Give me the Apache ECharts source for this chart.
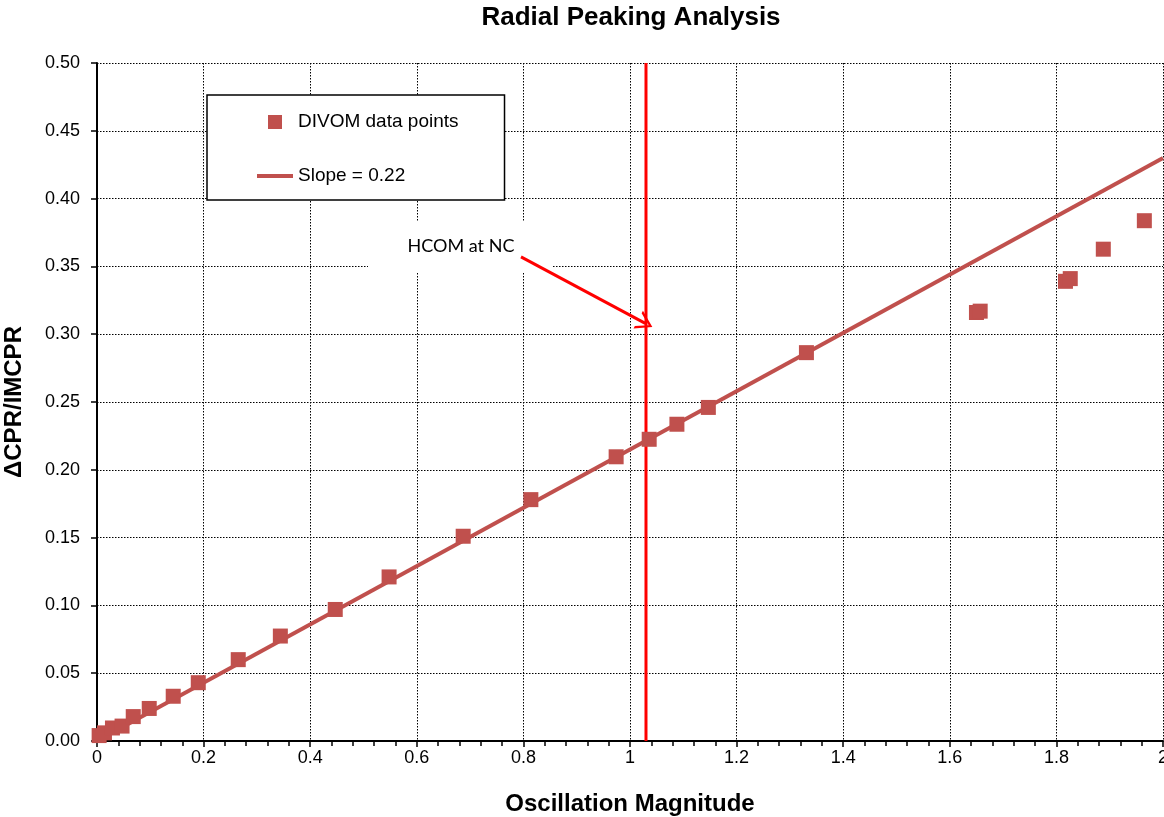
<!DOCTYPE html>
<html>
<head>
<meta charset="utf-8">
<script src="https://cdn.jsdelivr.net/npm/echarts@6/dist/echarts.min.js"></script>
<style>html,body{margin:0;padding:0;background:#fff}#c{width:1164px;height:817px}</style>
</head>
<body>
<div id="c"></div>
<script>
// Data
const pointX = [0.004, 0.014, 0.029, 0.047, 0.068, 0.098, 0.143, 0.190, 0.265, 0.344, 0.447, 0.548, 0.687, 0.814, 0.974, 1.036, 1.088, 1.147, 1.331, 1.650, 1.657, 1.817, 1.826, 1.888, 1.965];
const pointY = [0.004, 0.006, 0.0096, 0.011, 0.018, 0.024, 0.033, 0.043, 0.060, 0.0774, 0.097, 0.121, 0.151, 0.178, 0.2096, 0.2225, 0.2336, 0.246, 0.2864, 0.316, 0.317, 0.339, 0.341, 0.3627, 0.3837];
const slopeLineX = [0, 2];
const slopeLineY = [0, 0.43];
const hcomX = 1.03;
const arrowFrom = [0.7955, 0.357];
const arrowTo = [1.0287, 0.308];
const seriesNames = ['DIVOM data points', 'Slope = 0.22'];
const titleText = 'Radial Peaking Analysis';
const xName = 'Oscillation Magnitude';
const yName = '\u0394CPR/IMCPR';
const annotText = 'HCOM at NC';

const RED = '#C0504D';
const chart = echarts.init(document.getElementById('c'), null, {renderer: 'canvas'});
const font = '"Liberation Sans", Arial, sans-serif';

const option = {
  animation: false,
  backgroundColor: '#fff',
  grid: {left: 97, right: 1, top: 63, bottom: 76, containLabel: false, outerBoundsMode: 'none'},
  legend: {
    data: [
      {name: seriesNames[0], icon: 'path://M0,0 L10,0 L10,10 L0,10 Z'},
      {name: seriesNames[1], icon: 'path://M0,0 L36,0 L36,4 L0,4 Z'}
    ],
    symbolKeepAspect: true,
    orient: 'vertical', left: 207, top: 95,
    padding: [17, 46, 14, 50],
    itemGap: 34, itemWidth: 36, itemHeight: 14,
    borderColor: '#000', borderWidth: 1.5, backgroundColor: '#fff',
    textStyle: {fontFamily: font, fontSize: 19, color: '#000', lineHeight: 20},
    selectedMode: false
  },
  xAxis: {
    type: 'value', min: 0, max: 2, interval: 0.2,
    name: xName, nameLocation: 'middle', nameGap: 51,
    nameTextStyle: {fontFamily: font, fontSize: 24, fontWeight: 'bold', color: '#000'},
    axisLine: {show: true, onZero: false, lineStyle: {color: '#000', width: 2}},
    axisTick: {show: true, length: 6, lineStyle: {color: '#000', width: 1.5}},
    minorTick: {show: true, splitNumber: 5, length: 5, lineStyle: {color: '#000', width: 1.5}},
    axisLabel: {fontFamily: font, fontSize: 18, color: '#000', margin: 8,
      formatter: v => String(+v.toFixed(1))},
    splitLine: {show: true, lineStyle: {color: '#000', type: [1.5, 1.5], width: 1}}
  },
  yAxis: {
    type: 'value', min: 0, max: 0.5, interval: 0.05,
    name: yName, nameLocation: 'middle', nameGap: 71,
    nameTextStyle: {fontFamily: font, fontSize: 24, fontWeight: 'bold', color: '#000'},
    axisLine: {show: true, onZero: false, lineStyle: {color: '#000', width: 2}},
    axisTick: {show: true, length: 6, lineStyle: {color: '#000', width: 1.5}},
    axisLabel: {fontFamily: font, fontSize: 18, color: '#000', margin: 17,
      formatter: v => v.toFixed(2)},
    splitLine: {show: true, lineStyle: {color: '#000', type: [1.5, 1.5], width: 1}}
  },
  graphic: [
    {type: 'text', x: 631, y: 18, z: 10, silent: true,
      style: {text: titleText, fill: '#000', font: 'bold 26px "Liberation Sans", Arial, sans-serif', textAlign: 'center', textVerticalAlign: 'middle'}},
    {type: 'rect', left: 368, top: 222, shape: {width: 185, height: 50}, style: {fill: '#fff'}, z: 1, silent: true},
    {type: 'text', x: 461, y: 246, z: 1, silent: true,
      style: {text: annotText, fill: '#000', font: '18px Lato, "Noto Sans", sans-serif', textAlign: 'center', textVerticalAlign: 'middle'}}
  ],
  series: [
    {
      name: 'hcom', type: 'line', silent: true, z: 3,
      data: [[hcomX, 0], [hcomX, 0.5]],
      showSymbol: false, symbol: 'none',
      lineStyle: {color: '#FF0000', width: 3},
      markLine: {
        silent: true, animation: false,
        symbol: ['none', 'path://M5,0 L10,10 L8.6,10 L5,2.6 L1.4,10 L0,10 Z'],
        symbolSize: [20, 16],
        label: {show: false},
        lineStyle: {color: '#FF0000', width: 3, type: 'solid'},
        data: [[{coord: arrowFrom}, {coord: arrowTo}]]
      }
    },
    {
      name: seriesNames[1], type: 'line', z: 4,
      data: slopeLineX.map((x, i) => [x, slopeLineY[i]]),
      showSymbol: false, symbol: 'none',
      itemStyle: {color: RED},
      lineStyle: {color: RED, width: 4}
    },
    {
      name: seriesNames[0], type: 'scatter', z: 5,
      data: pointX.map((x, i) => [x, pointY[i]]),
      symbol: 'rect', symbolSize: 15,
      itemStyle: {color: RED, opacity: 1}
    }
  ]
};
chart.setOption(option);
</script>
</body>
</html>
